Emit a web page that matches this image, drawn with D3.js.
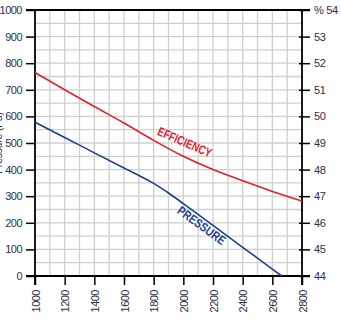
<!DOCTYPE html>
<html><head><meta charset="utf-8">
<script src="https://cdn.jsdelivr.net/npm/d3@7"></script>
<style>
html,body{margin:0;padding:0;background:#fff;}
svg{display:block;}
text{font-family:Arial,"Liberation Sans",sans-serif;white-space:pre;}
</style></head><body>
<script>
const speedTicks = [1000,1200,1400,1600,1800,2000,2200,2400,2600,2800];
const pressureTicks = [0,100,200,300,400,500,600,700,800,900,1000];
const effTicks = [44,45,46,47,48,49,50,51,52,53,54];
const effSpeed = [1000,1200,1400,1600,1800,2000,2200,2400,2600,2800];
const effValues = [51.65,51.0,50.37,49.75,49.1,48.5,48.0,47.58,47.18,46.82];
const presSpeed = [1000,1200,1400,1600,1700,1800,1900,2000,2200,2400,2600,2663];
const presValues = [578,521,463,406,378,348,312,272,190,108,26,0];

const W=341,H=335;
const svg=d3.select("body").append("svg").attr("width",W).attr("height",H);
const x=d3.scaleLinear().domain([1000,2800]).range([35,302]);
const yL=d3.scaleLinear().domain([0,1000]).range([276,10]);
const yR=d3.scaleLinear().domain([44,54]).range([276,10]);
const fmt=d3.format("d");

// grid
const g=svg.append("g");
g.selectAll("line.v").data(d3.range(1100,2800,100)).join("line")
 .attr("x1",d=>x(d)).attr("x2",d=>x(d)).attr("y1",10).attr("y2",276)
 .attr("stroke","#cfcfcf").attr("stroke-width",1.3);
g.selectAll("line.h").data(d3.range(50,1000,50)).join("line")
 .attr("y1",d=>yL(d)).attr("y2",d=>yL(d)).attr("x1",35).attr("x2",302)
 .attr("stroke","#cfcfcf").attr("stroke-width",1.3);

// axes
const txtCol="#2e2e4a";
const left=d3.axisLeft(yL).tickValues(pressureTicks).tickSize(9).tickFormat(fmt);
svg.append("g").attr("transform","translate(35,0)").call(left)
 .call(a=>{a.select(".domain").remove();a.selectAll("line").attr("stroke","#000").attr("stroke-width",1.5);
  a.selectAll("text").attr("font-size",11).attr("fill",txtCol).attr("x",-13).style("letter-spacing","-0.5px");});
const right=d3.axisRight(yR).tickValues(effTicks).tickSize(8).tickFormat(d=>d===54?"%\u00a054":fmt(d));
svg.append("g").attr("transform","translate(302,0)").call(right)
 .call(a=>{a.select(".domain").remove();a.selectAll("line").attr("x1",-3).attr("stroke","#000").attr("stroke-width",1.5);
  a.selectAll("text").attr("font-size",11).attr("fill",txtCol).attr("x",12).style("letter-spacing","-0.3px");});
const bottom=d3.axisBottom(x).tickValues(speedTicks).tickSize(9).tickFormat(fmt);
svg.append("g").attr("transform","translate(0,276)").call(bottom)
 .call(a=>{a.select(".domain").remove();a.selectAll("line").attr("stroke","#000").attr("stroke-width",1.5);
  a.selectAll("text").attr("font-size",11).attr("fill",txtCol).attr("y",0).attr("dy",0)
   .attr("text-anchor","end").attr("dominant-baseline","central")
   .attr("transform","translate(0,14) rotate(-90)").style("letter-spacing","-0.5px");});

// frame
svg.append("line").attr("x1",35).attr("x2",35).attr("y1",10).attr("y2",285).attr("stroke","#000").attr("stroke-width",1.8);
svg.append("line").attr("x1",302).attr("x2",302).attr("y1",10).attr("y2",285).attr("stroke","#000").attr("stroke-width",1.8);
svg.append("line").attr("x1",26).attr("x2",310).attr("y1",276).attr("y2",276).attr("stroke","#000").attr("stroke-width",1.8);
svg.append("line").attr("x1",26).attr("x2",310).attr("y1",10).attr("y2",10).attr("stroke","#000").attr("stroke-width",1.8);

// curves
const effLine=d3.line().x(d=>x(d[0])).y(d=>yR(d[1])).curve(d3.curveMonotoneX);
svg.append("path").attr("d",effLine(d3.zip(effSpeed,effValues))).attr("fill","none").attr("stroke","#e3202b").attr("stroke-width",1.6);
const presLine=d3.line().x(d=>x(d[0])).y(d=>yL(d[1])).curve(d3.curveMonotoneX);
svg.append("path").attr("d",presLine(d3.zip(presSpeed,presValues))).attr("fill","none").attr("stroke","#1c3f93").attr("stroke-width",1.6);

// curve labels
const cf="'Liberation Sans Narrow','Arial Narrow',Arial,sans-serif";
svg.append("text").text("EFFICIENCY").attr("transform","translate(183,146) rotate(23.6)")
 .attr("text-anchor","middle").attr("font-size",12.5).attr("font-weight",600).attr("font-family",cf).attr("fill","#e3202b")
 .attr("textLength",58).attr("lengthAdjust","spacingAndGlyphs");
svg.append("text").text("PRESSURE").attr("transform","translate(199,229) rotate(36)")
 .attr("text-anchor","middle").attr("font-size",12.5).attr("font-weight",600).attr("font-family",cf).attr("fill","#1c3f93")
 .attr("textLength",56).attr("lengthAdjust","spacingAndGlyphs");

// cut-off y axis title (mostly outside the picture, as in the reference)
svg.append("text").text("Pressure (Pa)").attr("transform","translate(1.5,143) rotate(-90)")
 .attr("text-anchor","middle").attr("font-size",10).attr("fill",txtCol);
</script>
</body></html>
